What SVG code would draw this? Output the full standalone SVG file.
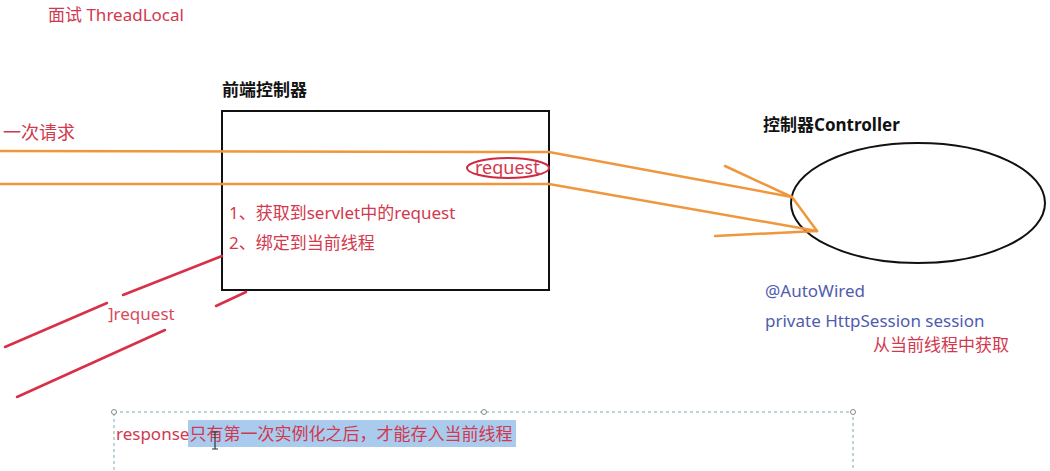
<svg xmlns="http://www.w3.org/2000/svg" width="1050" height="471" viewBox="0 0 1050 471">
<style>
text{font-family:"Noto Sans","Noto Sans CJK SC",sans-serif}
.red{fill:#d2384e}
.blk{fill:#111;font-weight:bold;font-size:17px}
.blue{fill:#4f5cae;font-size:17px}
.or{stroke:#f0963c;stroke-width:2.5;fill:none;stroke-linecap:round}
.rl{stroke:#d83048;stroke-width:2.5;fill:none;stroke-linecap:round}
</style>
<rect width="1050" height="471" fill="#fff"/>
<text x="48" y="21" class="red" font-size="17">面试 ThreadLocal</text>

<g id="front-controller">
<text x="222" y="96" class="blk">前端控制器</text>
<rect x="222" y="111" width="327" height="179" fill="none" stroke="#111" stroke-width="2"/>
<text x="229" y="219" class="red" font-size="17">1、获取到servlet中的request</text>
<text x="229" y="249" class="red" font-size="17">2、绑定到当前线程</text>
</g>

<g id="request-label">
<ellipse cx="508" cy="168" rx="41" ry="10" fill="none" stroke="#d02840" stroke-width="2"/>
<text x="475" y="174" class="red" font-size="18">request</text>
</g>

<g id="controller">
<text x="763" y="131" class="blk">控制器Controller</text>
<ellipse cx="918" cy="203" rx="127" ry="60" fill="none" stroke="#111" stroke-width="2"/>
<text x="765" y="297" class="blue">@AutoWired</text>
<text x="765" y="327" class="blue">private HttpSession session</text>
<text x="873" y="351" class="red" font-size="17">从当前线程中获取</text>
</g>

<text x="3" y="139" class="red" font-size="18">一次请求</text>

<g id="connectors">
<path class="or" d="M0 151 L549 152 L792 197"/>
<path class="or" d="M0 184 L549 184 L817 231"/>
<path class="or" d="M725 166 L792 197 L817 231"/>
<path class="or" d="M715 236 L817 231"/>
<path class="rl" d="M222 256 L123 295"/>
<path class="rl" d="M107 303 L5 347"/>
<path class="rl" d="M246 292 L216 306"/>
<path class="rl" d="M165 330 L17 397"/>
</g>
<text x="108" y="320" class="red" font-size="17" opacity="0.9">]request</text>

<g id="textbox">
<rect x="114" y="412" width="739" height="70" fill="none" stroke="#7aa8b0" stroke-width="1" stroke-dasharray="3 3"/>
<circle cx="114" cy="412" r="2.5" fill="#fff" stroke="#888"/>
<circle cx="484" cy="412" r="2.5" fill="#fff" stroke="#888"/>
<circle cx="853" cy="412" r="2.5" fill="#fff" stroke="#888"/>
<rect x="188" y="420" width="328" height="27" fill="#a9cbee"/>
<text x="116" y="440" class="red" font-size="17">response只有第一次实例化之后，才能存入当前线程</text>
<path d="M215 432 V449 M212 432 H218 M212 449 H218" stroke="#333" stroke-width="1.2" fill="none"/>
</g>
</svg>
